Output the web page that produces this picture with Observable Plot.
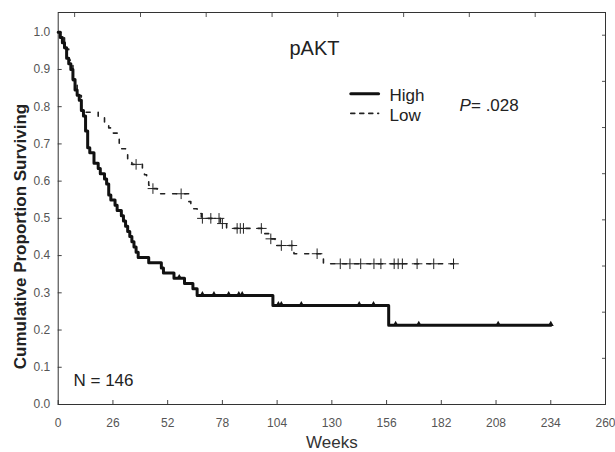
<!DOCTYPE html>
<html><head><meta charset="utf-8">
<script src="https://cdn.jsdelivr.net/npm/d3@7"></script>
<script src="https://cdn.jsdelivr.net/npm/@observablehq/plot@0.6"></script>
<style>body{margin:0;background:#fff} #chart svg{display:block}</style>
</head><body><div id="chart"></div>
<script>
// High pAKT group: event times (weeks) and survival after each step
const highWeeks = [0,1,2,3,4,5,6,7,8,9,10,11,12,13,14,15,17,19,20,22,23,24,25,27,28,30,31,32,33,34,35,36,37,38,43,49,50,55,60,64,66,102,157];
const highSurv  = [1.0,0.986,0.972,0.958,0.93,0.915,0.90,0.873,0.845,0.831,0.817,0.79,0.775,0.735,0.69,0.676,0.648,0.634,0.62,0.606,0.592,0.563,0.549,0.535,0.521,0.507,0.493,0.479,0.465,0.451,0.437,0.423,0.409,0.395,0.381,0.367,0.353,0.339,0.325,0.311,0.293,0.266,0.213];
const highLast = 234;
const highCensored = [57.5,68.5,74,81,85.8,87.4,104.6,106,115.5,143,149.8,160.3,171.3,209,234];

// Low pAKT group
const lowWeeks = [0,1,3,5,7,9,11,19,22,24,26,28,29,30,32,33,35,40,41,42,43,44,47,62,63,66,68,77,80,98,100,103,112,126];
const lowSurv  = [1.0,0.985,0.955,0.925,0.87,0.83,0.785,0.771,0.757,0.743,0.729,0.715,0.701,0.687,0.673,0.659,0.645,0.631,0.617,0.603,0.589,0.58,0.566,0.545,0.526,0.513,0.50,0.486,0.473,0.459,0.445,0.427,0.405,0.378];
const lowLast = 188;
const lowCensored = [37,45,58.4,68.5,72.5,76.4,78,85,86.5,88,96.5,101,106,111,123,134,138.6,143.7,150,153.3,159.6,161.5,163.5,170.5,178.4,187.8];

const xTicks = [0,26,52,78,104,130,156,182,208,234,260];
const yTicks = [0,0.1,0.2,0.3,0.4,0.5,0.6,0.7,0.8,0.9,1.0];
const topTicks = [7.8,39.1,70.3,101.6,132.8,164.1,195.3,226.6];
const rightTicks = [0.124,0.248,0.372,0.496,0.62,0.744,0.868,0.992];

const legendWeeks = [139, 152.2];
const legendHighY = 0.835, legendLowY = 0.782;

function series(ts, ss, last) {
  const pts = ts.map((t, i) => ({t, s: ss[i]}));
  pts.push({t: last, s: ss[ss.length - 1]});
  return pts;
}
function stepAt(ts, ss, t) {
  let v = ss[0];
  for (let i = 0; i < ts.length; i++) if (ts[i] <= t) v = ss[i];
  return v;
}
const high = series(highWeeks, highSurv, highLast);
const low = series(lowWeeks, lowSurv, lowLast);
const highC = highCensored.map(t => ({t, s: stepAt(highWeeks, highSurv, t)}));
const lowC = lowCensored.map(t => ({t, s: stepAt(lowWeeks, lowSurv, t)}));

const F = "Liberation Sans, Arial, sans-serif";
const chart = Plot.plot({
  width: 615, height: 452,
  marginLeft: 57.7, marginRight: 10, marginTop: 12, marginBottom: 48,
  style: {fontFamily: F, fontSize: "12px", background: "#fff", color: "#222"},
  x: {domain: [0, 260]},
  y: {domain: [0, 1.053]},
  marks: [
    Plot.axisX({ticks: xTicks, tickSize: -4, tickPadding: 18, tickFormat: d => d, fill: "#555", stroke: "#444", label: null, fontSize: 12}),
    Plot.axisY({ticks: yTicks, tickSize: -4, tickPadding: 12, tickFormat: d3.format(".1f"), fill: "#555", stroke: "#444", label: null, fontSize: 12}),
    Plot.axisX({anchor: "top", ticks: topTicks, tickSize: -4, fill: "none", stroke: "#555", label: null}),
    Plot.axisY({anchor: "right", ticks: rightTicks, tickSize: -4, fill: "none", stroke: "#555", label: null}),
    Plot.frame({stroke: "#333", strokeWidth: 1}),
    Plot.line(low, {x: "t", y: "s", curve: "step-after", stroke: "#222", strokeWidth: 1.6, strokeDasharray: "4,8"}),
    Plot.line(high, {x: "t", y: "s", curve: "step-after", stroke: "#111", strokeWidth: 3}),
    Plot.dot(lowC, {x: "t", y: "s", symbol: "plus", r: 3.5, stroke: "#222", strokeWidth: 1}),
    Plot.dot(highC, {x: "t", y: "s", symbol: "triangle", r: 2.2, fill: "#111", dy: -1}),
    // legend
    Plot.line(legendWeeks.map(t => ({t, s: legendHighY})), {x: "t", y: "s", stroke: "#111", strokeWidth: 3}),
    Plot.line(legendWeeks.map(t => ({t, s: legendLowY})), {x: "t", y: "s", stroke: "#222", strokeWidth: 1.6, strokeDasharray: "4,5"}),
    Plot.text(["High"], {frameAnchor: "top-left", dx: 331.3, dy: 88, textAnchor: "start", lineAnchor: "bottom", fontSize: 17, fill: "#222"}),
    Plot.text(["Low"], {frameAnchor: "top-left", dx: 331.3, dy: 108, textAnchor: "start", lineAnchor: "bottom", fontSize: 17, fill: "#222"}),
    Plot.text(["pAKT"], {frameAnchor: "top-left", dx: 256.3, dy: 42, textAnchor: "middle", lineAnchor: "bottom", fontSize: 20, fill: "#222"}),
    Plot.text(["P"], {frameAnchor: "top-left", dx: 401.3, dy: 98, textAnchor: "start", lineAnchor: "bottom", fontSize: 17, fontStyle: "italic", fill: "#222"}),
    Plot.text(["= .028"], {frameAnchor: "top-left", dx: 412.8, dy: 98, textAnchor: "start", lineAnchor: "bottom", fontSize: 17, fill: "#222"}),
    Plot.text(["N = 146"], {frameAnchor: "bottom-left", dx: 15.3, dy: -18.3, textAnchor: "start", lineAnchor: "bottom", fontSize: 17, fill: "#222"}),
    Plot.text(["Weeks"], {frameAnchor: "bottom", dy: 43, textAnchor: "middle", lineAnchor: "bottom", fontSize: 17, fill: "#333"}),
    Plot.text(["Cumulative Proportion Surviving"], {frameAnchor: "left", dx: -32.7, dy: 28, rotate: -90, textAnchor: "middle", lineAnchor: "bottom", fontSize: 17, fontWeight: "bold", fill: "#222"})
  ]
});
document.getElementById("chart").appendChild(chart);
</script>
</body></html>
